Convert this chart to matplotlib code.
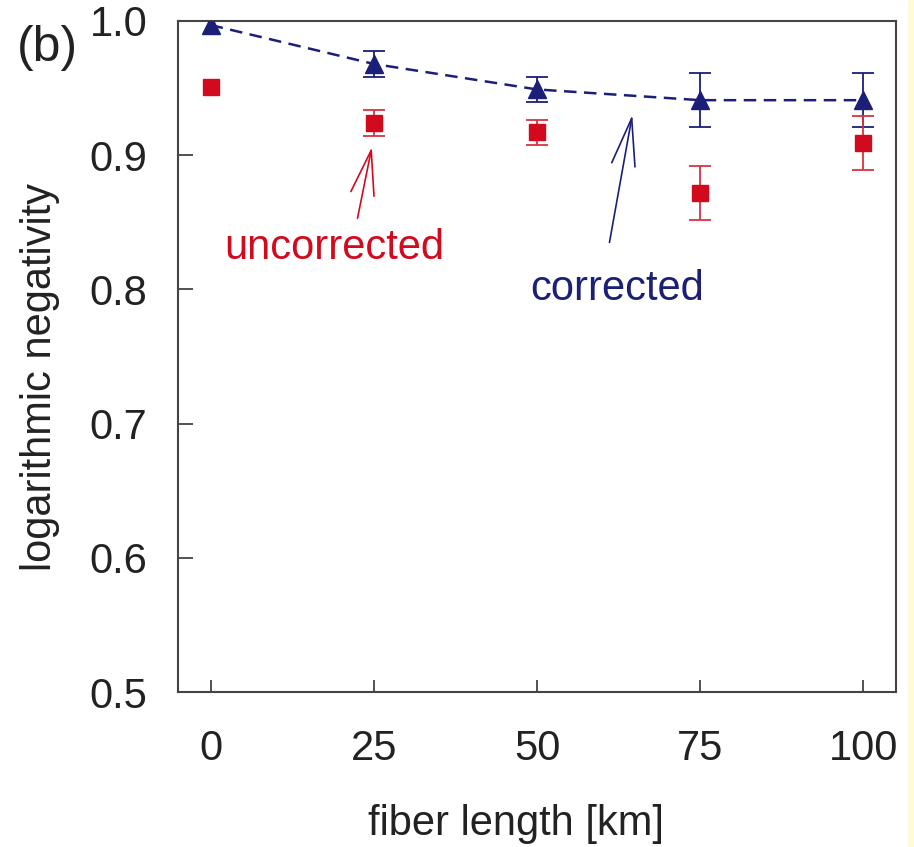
import matplotlib
matplotlib.use("Agg")
import matplotlib.pyplot as plt
from matplotlib.patches import Rectangle

plt.rcParams['font.family'] = ['Liberation Sans', 'DejaVu Sans']

fiber_km = [0, 25, 50, 75, 100]
corrected = [0.997, 0.968, 0.949, 0.941, 0.941]
corrected_err = [0.0, 0.010, 0.0095, 0.020, 0.020]
uncorrected = [0.951, 0.924, 0.917, 0.872, 0.909]
uncorrected_err = [0.0, 0.010, 0.0095, 0.020, 0.020]
xticks = [0, 25, 50, 75, 100]
yticks = [0.5, 0.6, 0.7, 0.8, 0.9, 1.0]

navy = '#1b1f78'
red = '#d20a1e'
txt = '#222222'
FS = 30

fig = plt.figure(figsize=(9.14, 8.47), dpi=100)
fig.patches.append(Rectangle((908/914, 0), 6/914, 1, transform=fig.transFigure,
                             color='#fffbd6', zorder=0))
ax = fig.add_axes([178/914, 1-692/847, (896-178)/914, (692-21)/847])

ax.plot(fiber_km, corrected, ls=(0, (5, 3)), color=navy, lw=1.8, zorder=2)
# error bars only where an uncertainty is shown (not at 0 km)
ax.errorbar(fiber_km[1:], corrected[1:], yerr=corrected_err[1:], fmt='none',
            ecolor=navy, capsize=8, elinewidth=1.3, capthick=1.3, zorder=3)
ax.plot(fiber_km, corrected, '^', color=navy, ms=13, zorder=4)
ax.errorbar(fiber_km[1:], uncorrected[1:], yerr=uncorrected_err[1:], fmt='none',
            ecolor='#d9323f', capsize=8, elinewidth=1.3, capthick=1.3, zorder=3)
ax.plot(fiber_km, uncorrected, 's', color=red, ms=11, zorder=4)

ax.set_xlim(-5, 105)
ax.set_ylim(0.5, 1.0)
ax.set_xticks(xticks)
ax.set_xticklabels([str(t) for t in xticks])
ax.set_yticks(yticks)
ax.set_yticklabels([f"{t:.1f}" for t in yticks])
ax.tick_params(axis='both', direction='in', labelsize=FS, colors='#333333',
               labelcolor=txt, width=1.2)
ax.tick_params(axis='x', length=9, pad=27)
ax.tick_params(axis='y', length=11, pad=22)
for s in ax.spines.values():
    s.set_color('#444444')
    s.set_linewidth(1.5)

fig.text(516/914, 1-835/847, 'fiber length [km]', fontsize=FS, color=txt,
         ha='center', va='baseline')
fig.text(40/914, 1-377/847, 'logarithmic negativity', fontsize=FS, color=txt,
         ha='center', va='center', rotation=90)

fig.text(17/914, 1-48/847, '(b)', fontsize=36, color=txt, va='center', ha='left')

ax.annotate('', xy=(24.7, 0.906), xytext=(22.5, 0.853),
            arrowprops=dict(arrowstyle='->,head_length=3.2,head_width=0.85',
                            color=red, lw=1.2, shrinkA=0, shrinkB=0))
ax.text(19.0, 0.831, 'uncorrected', fontsize=FS, color=red, ha='center', va='center')

ax.annotate('', xy=(64.6, 0.930), xytext=(61.1, 0.835),
            arrowprops=dict(arrowstyle='->,head_length=3.4,head_width=0.85',
                            color=navy, lw=1.2, shrinkA=0, shrinkB=0))
ax.text(62.3, 0.800, 'corrected', fontsize=FS, color=navy, ha='center', va='center')

fig.savefig('out.png', dpi=100)
